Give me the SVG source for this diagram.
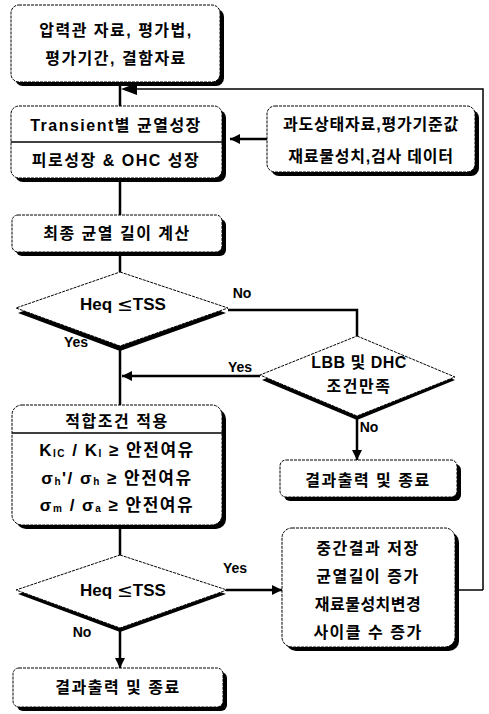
<svg xmlns="http://www.w3.org/2000/svg" width="489" height="714" viewBox="0 0 489 714">
<defs>
<style>
.sh{fill:#000}
.bx{fill:#fff;stroke:#000;stroke-width:1;stroke-dasharray:3 1}
.t{font-family:"Liberation Sans","Noto Sans CJK KR",sans-serif;font-weight:bold;font-size:16px;letter-spacing:1.5px;fill:#000;text-anchor:middle;dominant-baseline:central}
.f{font-size:17px;letter-spacing:1.5px}
.lb{font-family:"Liberation Sans","Noto Sans CJK KR",sans-serif;font-weight:bold;font-size:14px;fill:#000;text-anchor:middle;dominant-baseline:central}
.dt{font-family:"Liberation Sans","Noto Sans CJK KR",sans-serif;font-weight:bold;font-size:17px;fill:#000;text-anchor:middle;dominant-baseline:central}
.le{font-family:"DejaVu Sans",sans-serif;font-weight:normal;font-size:19px}
.ln{fill:none;stroke:#000;stroke-width:2.5}
.thin{fill:none;stroke:#000;stroke-width:1.5}
</style>
<marker id="ah" viewBox="0 0 10 10" refX="10" refY="5" markerWidth="5.5" markerHeight="4" orient="auto" markerUnits="strokeWidth">
<path d="M0,0 L10,5 L0,10 z" fill="#000"/>
</marker>
</defs>
<rect width="489" height="714" fill="#fff"/>

<g id="connectors">
<line class="ln" x1="120" y1="86" x2="120" y2="106"/>
<polyline class="thin" points="483,590 483,89 132,89"/>
<path d="M121,89 L137,83 L137,95 z" fill="#000"/>
<line class="ln" x1="267" y1="139" x2="230" y2="139" marker-end="url(#ah)"/>
<line class="ln" x1="120" y1="182" x2="120" y2="215"/>
<line class="ln" x1="120" y1="256" x2="120" y2="272"/>
<polyline class="ln" points="228,310 357,310 357,336"/>
<line class="ln" x1="120" y1="349" x2="120" y2="405"/>
<line class="ln" x1="260" y1="376" x2="122" y2="376" marker-end="url(#ah)"/>
<line class="ln" x1="357" y1="418" x2="357" y2="460" marker-end="url(#ah)"/>
<line class="ln" x1="120" y1="529" x2="120" y2="555"/>
<line class="ln" x1="226" y1="590" x2="282" y2="590" marker-end="url(#ah)"/>
<line class="thin" x1="459" y1="590" x2="483" y2="590"/>
<line class="ln" x1="120" y1="630" x2="120" y2="668" marker-end="url(#ah)"/>
<text class="lb" x="242" y="293">No</text>
<text class="lb" x="76" y="342">Yes</text>
<text class="lb" x="240" y="367">Yes</text>
<text class="lb" x="369" y="427">No</text>
<text class="lb" x="235" y="568">Yes</text>
<text class="lb" x="82" y="632">No</text>
</g>

<g id="n1">
<rect class="sh" x="15" y="9" width="209" height="77" rx="8"/>
<rect class="bx" x="11" y="5" width="209" height="77" rx="8"/>
<text class="t" x="116" y="30">압력관 자료, 평가법,</text>
<text class="t" x="116" y="58">평가기간, 결함자료</text>
</g>

<g id="n2">
<rect class="sh" x="15" y="110" width="211" height="72" rx="8"/>
<rect class="bx" x="11" y="106" width="211" height="72" rx="8"/>
<line x1="11" y1="142" x2="222" y2="142" stroke="#000" stroke-width="1.5"/>
<text class="t" x="116" y="125">Transient별 균열성장</text>
<text class="t" x="116" y="160">피로성장 &amp; OHC 성장</text>
</g>

<g id="n3">
<rect class="sh" x="271" y="110" width="208" height="66" rx="8"/>
<rect class="bx" x="267" y="106" width="208" height="66" rx="8"/>
<text class="t" x="371" y="124" style="letter-spacing:0.8px">과도상태자료,평가기준값</text>
<text class="t" x="371" y="156" style="letter-spacing:0.8px">재료물성치,검사 데이터</text>
</g>

<g id="n4">
<rect class="sh" x="16" y="219" width="210" height="37" rx="6"/>
<rect class="bx" x="12" y="215" width="210" height="37" rx="6"/>
<text class="t" x="117" y="233">최종 균열 길이 계산</text>
</g>

<g id="d1">
<polygon class="sh" points="120,276 226,313 120,351 18,313"/>
<polygon class="bx" points="120,272 228,308 120,346 16,308"/>
<text class="dt" x="123" y="304">Heq  <tspan class="le">≤</tspan>TSS</text>
</g>

<g id="d2">
<polygon class="sh" points="357,340 455,380 357,420 262,380"/>
<polygon class="bx" points="357,336 455,377 357,416 260,375"/>
<text class="t" x="359" y="362" style="letter-spacing:0.5px">LBB 및 DHC</text>
<text class="t" x="359" y="386">조건만족</text>
</g>

<g id="n5">
<rect class="sh" x="16" y="409" width="210" height="120" rx="10"/>
<rect class="bx" x="12" y="405" width="210" height="120" rx="10"/>
<line x1="12" y1="433" x2="222" y2="433" stroke="#000" stroke-width="1.5"/>
<text class="t" x="117" y="421">적합조건 적용</text>
<text class="t f" x="117" y="450">K<tspan font-size="10" dy="3">IC</tspan><tspan dy="-3"> / K</tspan><tspan font-size="10" dy="3">I</tspan><tspan dy="-3"> ≥ 안전여유</tspan></text>
<text class="t f" x="117" y="478">σ<tspan font-size="10" dy="3">h</tspan><tspan dy="-3">'/ σ</tspan><tspan font-size="10" dy="3">h</tspan><tspan dy="-3"> ≥ 안전여유</tspan></text>
<text class="t f" x="117" y="505">σ<tspan font-size="10" dy="3">m</tspan><tspan dy="-3"> / σ</tspan><tspan font-size="10" dy="3">a</tspan><tspan dy="-3"> ≥ 안전여유</tspan></text>
</g>

<g id="n6">
<rect class="sh" x="284" y="464" width="177" height="37" rx="6"/>
<rect class="bx" x="280" y="460" width="177" height="37" rx="6"/>
<text class="t" x="368" y="480">결과출력 및 종료</text>
</g>

<g id="n7">
<rect class="sh" x="286" y="532" width="173" height="119" rx="10"/>
<rect class="bx" x="282" y="528" width="173" height="119" rx="10"/>
<text class="t" x="368" y="548">중간결과 저장</text>
<text class="t" x="368" y="576">균열길이 증가</text>
<text class="t" x="368" y="604" style="letter-spacing:0.5px">재료물성치변경</text>
<text class="t" x="368" y="632">사이클 수 증가</text>
</g>

<g id="d3">
<polygon class="sh" points="120,559 226,594 120,632 18,594"/>
<polygon class="bx" points="120,555 227,590 120,628 16,590"/>
<text class="dt" x="123" y="590">Heq  <tspan class="le">≤</tspan>TSS</text>
</g>

<g id="n8">
<rect class="sh" x="17" y="672" width="210" height="39" rx="6"/>
<rect class="bx" x="13" y="668" width="210" height="39" rx="6"/>
<text class="t" x="118" y="687">결과출력 및 종료</text>
</g>
</svg>
